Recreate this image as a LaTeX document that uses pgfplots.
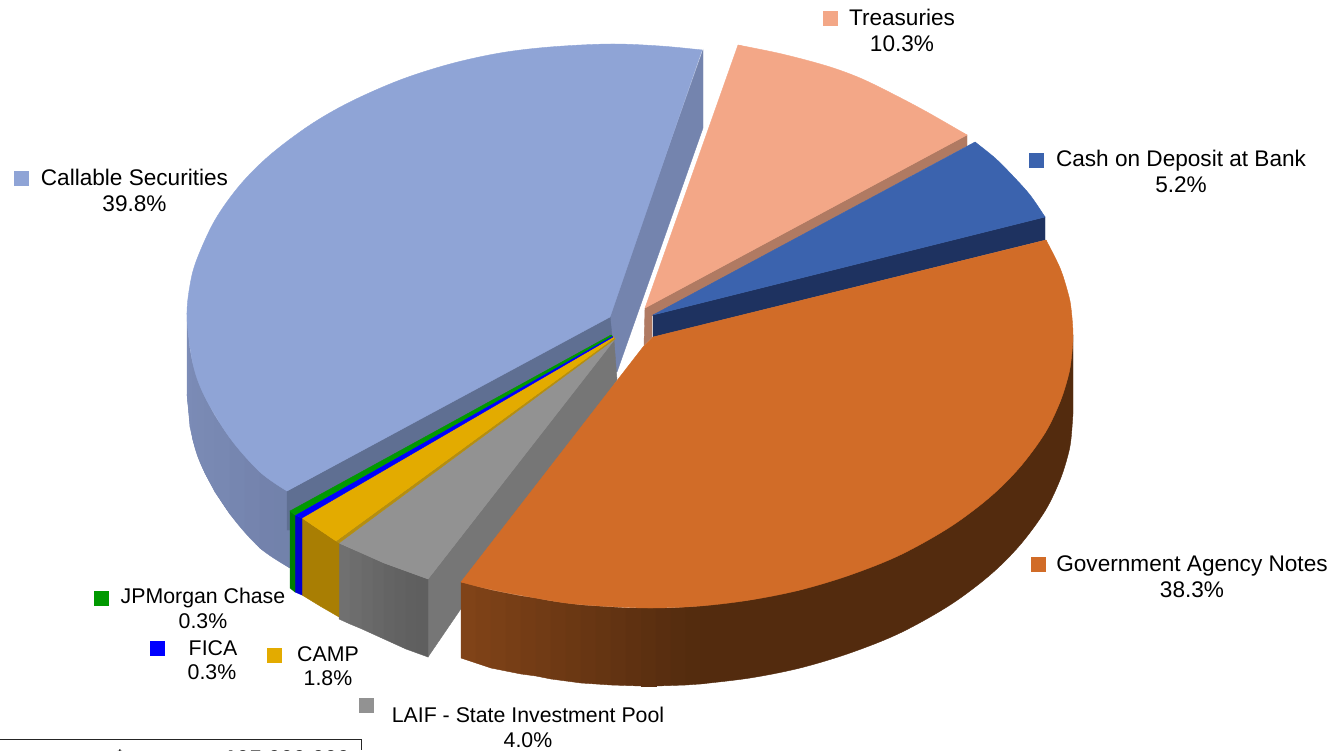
\documentclass[border=0pt]{standalone}
\usepackage{fontspec}
\setmainfont{Liberation Sans}
\usepackage{pgfplots}
\pgfplotsset{compat=1.18}

\definecolor{callTop}{HTML}{8FA4D6}
\definecolor{callBack}{HTML}{7484AE}
\definecolor{callFront}{HTML}{5F6F92}
\definecolor{treaTop}{HTML}{F3A787}
\definecolor{treaSide}{HTML}{B07A62}
\definecolor{cashTop}{HTML}{3B63AE}
\definecolor{cashSide}{HTML}{1E3260}
\definecolor{govTop}{HTML}{D16C28}
\definecolor{govSide}{HTML}{532B0E}
\definecolor{jpmTop}{HTML}{009900}
\definecolor{jpmSide}{HTML}{007F00}
\definecolor{ficaTop}{HTML}{0000FF}
\definecolor{ficaSide}{HTML}{0000D0}
\definecolor{campTop}{HTML}{E3AB00}
\definecolor{campEdge}{HTML}{B58E10}
\definecolor{campSide}{HTML}{A97E03}
\definecolor{laifTop}{HTML}{929292}
\definecolor{laifCut}{HTML}{767676}

\pgfplotsset{
  piece/.style={draw=#1, fill=#1, line width=0.4pt},
  arc/.style={smooth, tension=0.55, draw=#1, fill=#1, line width=0.4pt},
  box/.style={only marks, mark=square*, mark size=7pt, color=#1, mark options={fill=#1, draw=none}},
}
% baseline-placed labels, the lower-left ones are a bit smaller
\newcommand{\lab}[3]{\node[font=\fontsize{22.6}{26}\selectfont, anchor=base, inner sep=0pt] at (axis cs:#1,#2) {#3};}
\newcommand{\labs}[3]{\node[font=\fontsize{21.3}{24}\selectfont, anchor=base, inner sep=0pt] at (axis cs:#1,#2) {#3};}
% one vertical strip of a side wall: r g b, x1 top1 bot1, x2 top2 bot2
\newcommand{\strip}[9]{\addplot[draw={rgb,255:red,#1;green,#2;blue,#3}, fill={rgb,255:red,#1;green,#2;blue,#3}, line width=0.4pt] coordinates {(#4,#5) (#7,#8) (#7,#9) (#4,#6)} -- cycle;}

\begin{document}
\begin{tikzpicture}
\useasboundingbox (0,0) rectangle (1335pt,750pt);
\begin{axis}[at={(0,0)}, anchor=south west, scale only axis,
    width=1335pt, height=750pt,
    xmin=0, xmax=1335, ymin=0, ymax=750, y dir=reverse,
    hide axis]

% callable securities: back cut face, outer wall, front cut face, top
\addplot[piece=callBack] coordinates {(703,50) (703,128) (617,372) (609,372) (609,316)} -- cycle;
\addplot[arc=callBack] coordinates {(187,394) (193,440) (205,473) (230,514) (260,548) (290,568)};
\strip{124}{140}{183}{187}{318}{394}{190}{351}{427}
\strip{123}{139}{182}{190}{351}{427}{193}{364}{440}
\strip{122}{138}{181}{193}{364}{440}{198}{380}{456}
\strip{122}{138}{180}{198}{380}{456}{205}{397}{473}
\strip{121}{137}{179}{205}{397}{473}{215}{416}{492}
\strip{120}{136}{178}{215}{416}{492}{230}{438}{514}
\strip{118}{134}{176}{230}{438}{514}{245}{456}{531}
\strip{117}{132}{174}{245}{456}{531}{260}{472}{548}
\strip{115}{130}{172}{260}{472}{548}{275}{482}{558}
\strip{114}{130}{171}{275}{482}{558}{290}{493}{568}
\addplot[piece=callFront] coordinates {(287,491) (610,316) (612,336) (290,512) (290,530) (287,530)} -- cycle;
\addplot[piece=callTop] coordinates {(610,317) (287,491) (240,430) (205,380) (192,318) (215,225) (310,130) (450,70) (610,50) (702,50)} -- cycle;
\addplot[arc=callTop] coordinates {(287,491) (260,472) (230,438) (205,397) (193,364) (187,318)
  (190,285) (197,259) (215,220) (240,185) (270,155) (310,125) (350,102) (400,80) (450,64)
  (500,53) (550,47) (610,44) (660,46) (702,50)};

% laif
\addplot[piece=laifCut] coordinates {(428,579) (614,340) (617,380) (428,657)} -- cycle;
\strip{112}{112}{112}{339}{543}{619}{350}{548}{624}
\strip{109}{109}{109}{350}{548}{624}{362}{553}{629}
\strip{106}{106}{106}{362}{553}{629}{373}{558}{634}
\strip{103}{103}{103}{373}{558}{634}{384}{563}{639}
\strip{100}{100}{100}{384}{563}{639}{395}{567}{644}
\strip{98}{98}{98}{395}{567}{644}{406}{571}{649}
\strip{96}{96}{96}{406}{571}{649}{417}{575}{653}
\strip{95}{95}{95}{417}{575}{653}{428}{579}{657}
\addplot[piece=laifTop] coordinates {(615,339) (339,543) (384,563) (428,579)} -- cycle;

% camp
\addplot[piece=campSide] coordinates {(302,518) (339,543) (339,617) (320,606) (302,595)} -- cycle;
\addplot[piece=campEdge] coordinates {(336,541) (339,543) (615,339) (614,338)} -- cycle;
\addplot[piece=campTop] coordinates {(302,518) (336,541) (614,338) (613,336)} -- cycle;
% fica
\addplot[piece=ficaSide] coordinates {(295,515) (302,518) (302,595) (295,592)} -- cycle;
\addplot[piece=ficaTop] coordinates {(295,515) (302,518) (613,337) (612,336)} -- cycle;
% jpmorgan chase
\addplot[piece=jpmSide] coordinates {(290,511) (295,515) (295,592) (290,588)} -- cycle;
\addplot[piece=jpmTop] coordinates {(290,511) (295,515) (612,336) (611,335)} -- cycle;

% treasuries
\addplot[piece=treaSide] coordinates {(645,308) (967,135) (967,146) (652,316) (652,337) (644,345)} -- cycle;
\addplot[piece=treaTop] coordinates {(645,308) (738,45) (827,70) (900,103) (967,135)} -- cycle;
\addplot[arc=treaTop] coordinates {(738,45) (782,54) (827,66) (860,78) (893,94) (927,112) (967,135)};

% cash on deposit
\addplot[piece=cashSide] coordinates {(653,315) (1045,217) (1045,240) (653,337)} -- cycle;
\addplot[piece=cashTop] coordinates {(653,315) (975,142) (1005,171) (1045,217)} -- cycle;
\addplot[arc=cashTop] coordinates {(975,142) (995,158) (1012,175) (1030,195) (1045,217)};

% government agency notes: wall, strips, then top
\addplot[arc=govSide] coordinates {(700,684) (750,678) (800,668) (850,653) (900,633) (950,605) (990,575)
  (1020,545) (1045,511) (1060,480) (1068,455) (1071,439) (1073,413)};
\addplot[piece=govSide] coordinates {(700,606) (750,600) (800,590) (850,575) (900,555) (950,527) (990,497) (1020,467)
  (1045,433) (1060,402) (1068,377) (1073,335) (1073,413) (1040,500) (950,595) (850,645) (760,672) (700,684)} -- cycle;
\strip{128}{67}{24}{461}{582}{658}{476}{586}{663}
\strip{125}{65}{23}{476}{586}{663}{491}{590}{668}
\strip{122}{64}{23}{491}{590}{668}{506}{593}{671}
\strip{119}{62}{22}{506}{593}{671}{521}{596}{674}
\strip{116}{60}{21}{521}{596}{674}{536}{598}{676}
\strip{113}{59}{21}{536}{598}{676}{551}{601}{679}
\strip{110}{57}{20}{551}{601}{679}{566}{603}{681}
\strip{107}{56}{19}{566}{603}{681}{581}{605}{683}
\strip{104}{54}{19}{581}{605}{683}{596}{606}{684}
\strip{101}{53}{18}{596}{606}{684}{611}{607}{685}
\strip{98}{51}{18}{611}{607}{685}{626}{608}{685.5}
\strip{95}{49}{17}{626}{608}{685.5}{641}{608}{686}
\strip{92}{48}{16}{641}{608}{686}{656}{608}{686}
\strip{89}{46}{16}{656}{608}{686}{671}{608}{685.5}
\strip{86}{45}{15}{671}{608}{685.5}{686}{607}{685}
\strip{84}{44}{14}{686}{607}{685}{700}{606}{684}
\addplot[piece=govTop] coordinates {(643,347) (653,337) (1046,240) (1065,335) (1040,425) (950,520) (800,583) (650,600) (500,585) (461,582)} -- cycle;
\addplot[arc=govTop] coordinates {(1046,240) (1060,268) (1068,293) (1071,308) (1073,335)
  (1071,361) (1068,377) (1060,402) (1045,433) (1020,467) (990,497) (950,527) (900,555) (850,575)
  (800,590) (750,600) (700,606) (650,608) (600,606) (566,603) (530,597) (503,592) (480,587) (461,582)};

% legend keys
\addplot[box=treaTop] coordinates {(830,18)};
\addplot[box=cashTop] coordinates {(1036,160)};
\addplot[box=callTop] coordinates {(21,178)};
\addplot[box=govTop] coordinates {(1038,564)};
\addplot[box=jpmTop] coordinates {(101,598)};
\addplot[box=ficaTop] coordinates {(157,648)};
\addplot[box=campTop] coordinates {(274,655)};
\addplot[box=laifTop] coordinates {(366,705)};

% cropped table under the chart
\addplot[black!85, line width=1.2pt] coordinates {(0,739.5) (361.5,739.5) (361.5,750)};

\lab{902}{25}{Treasuries}
\lab{902}{51}{10.3\%}
\lab{1181}{166}{Cash on Deposit at Bank}
\lab{1181}{192}{5.2\%}
\lab{134.5}{185}{Callable Securities}
\lab{134.5}{211}{39.8\%}
\lab{1192}{571}{Government Agency Notes}
\lab{1192}{597}{38.3\%}
\labs{203}{603}{JPMorgan Chase}
\labs{203}{628}{0.3\%}
\labs{213}{655}{FICA}
\labs{212}{679}{0.3\%}
\labs{328}{661}{CAMP}
\labs{328}{685}{1.8\%}
\labs{528}{722}{LAIF - State Investment Pool}
\labs{528}{747}{4.0\%}
\node[font=\fontsize{22.6}{26}\selectfont\bfseries, anchor=base, inner sep=0pt] at (axis cs:120,766) {\$};
\node[font=\fontsize{22.6}{26}\selectfont\bfseries, anchor=base east, inner sep=0pt] at (axis cs:350,766) {105,000,000};
\end{axis}
\end{tikzpicture}
\end{document}
